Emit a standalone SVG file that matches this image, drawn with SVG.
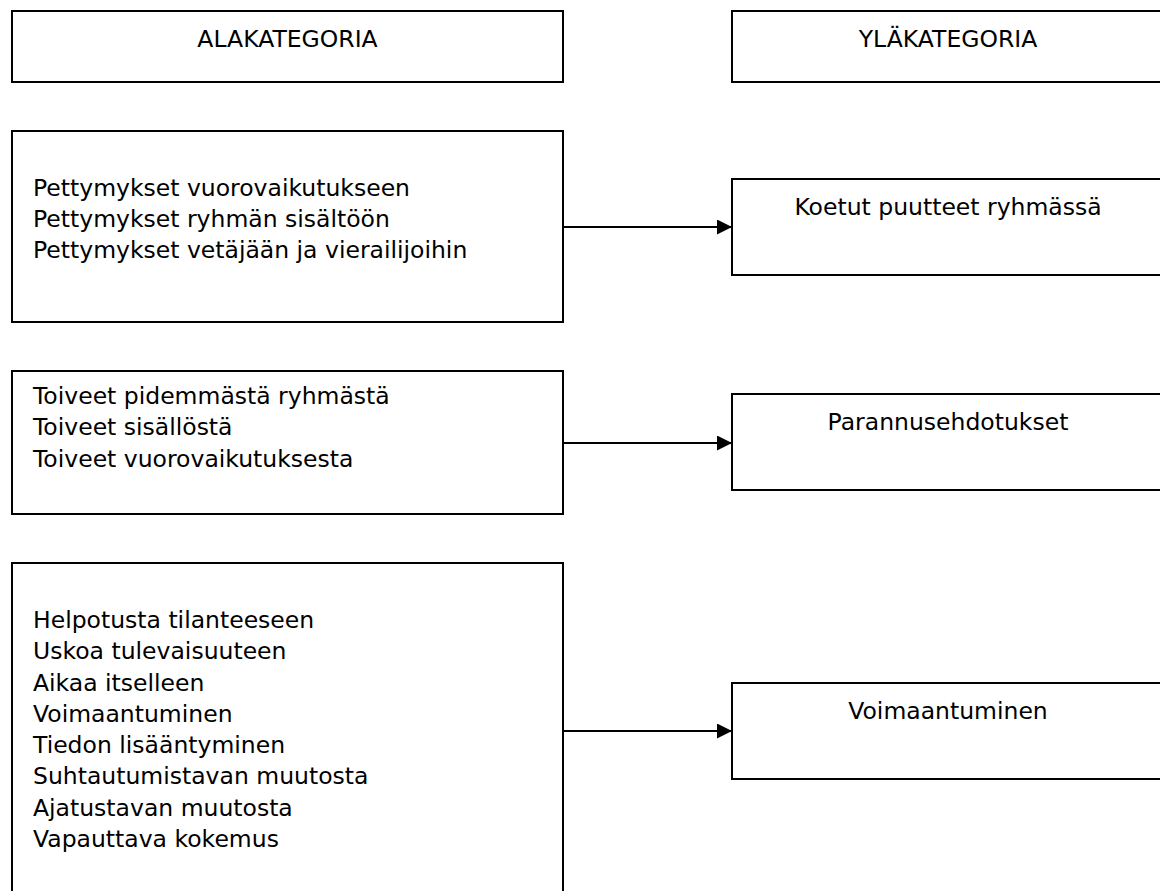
<svg xmlns="http://www.w3.org/2000/svg" width="1160" height="891" viewBox="0 0 1160 891">
  <defs>
    <marker id="arrow" markerWidth="16" markerHeight="16" refX="15" refY="7.5" orient="auto" markerUnits="userSpaceOnUse">
      <path d="M0,0 L15,7.5 L0,15 Z" fill="#000"/>
    </marker>
    <style>
      .box { fill: #fff; stroke: #000; stroke-width: 2; }
      .t { font-family: "DejaVu Sans", "Liberation Sans", sans-serif; font-size: 23.5px; fill: #000; }
      .c { text-anchor: middle; }
      .edge { stroke: #000; stroke-width: 2; fill: none; marker-end: url(#arrow); }
    </style>
  </defs>
  <rect width="1160" height="891" fill="#fff"/>

  <g id="alakategoria">
    <rect class="box" x="12" y="11" width="551" height="71"/>
    <text class="t c" x="287.5" y="47">ALAKATEGORIA</text>
  </g>
  <g id="ylakategoria">
    <rect class="box" x="732" y="11" width="440" height="71"/>
    <text class="t c" x="948" y="47">YLÄKATEGORIA</text>
  </g>

  <g id="pettymykset">
    <rect class="box" x="12" y="131" width="551" height="191"/>
    <text class="t" x="33" y="196">Pettymykset vuorovaikutukseen</text>
    <text class="t" x="33" y="227">Pettymykset ryhmän sisältöön</text>
    <text class="t" x="33" y="258">Pettymykset vetäjään ja vierailijoihin</text>
  </g>
  <g id="koetut">
    <rect class="box" x="732" y="179" width="440" height="96"/>
    <text class="t c" x="948" y="215">Koetut puutteet ryhmässä</text>
  </g>

  <g id="toiveet">
    <rect class="box" x="12" y="371" width="551" height="143"/>
    <text class="t" x="33" y="404">Toiveet pidemmästä ryhmästä</text>
    <text class="t" x="33" y="435">Toiveet sisällöstä</text>
    <text class="t" x="33" y="467">Toiveet vuorovaikutuksesta</text>
  </g>
  <g id="parannus">
    <rect class="box" x="732" y="394" width="440" height="96"/>
    <text class="t c" x="948" y="430">Parannusehdotukset</text>
  </g>

  <g id="helpotusta">
    <rect class="box" x="12" y="563" width="551" height="340"/>
    <text class="t" x="33" y="628">Helpotusta tilanteeseen</text>
    <text class="t" x="33" y="659">Uskoa tulevaisuuteen</text>
    <text class="t" x="33" y="691">Aikaa itselleen</text>
    <text class="t" x="33" y="722">Voimaantuminen</text>
    <text class="t" x="33" y="753">Tiedon lisääntyminen</text>
    <text class="t" x="33" y="784">Suhtautumistavan muutosta</text>
    <text class="t" x="33" y="816">Ajatustavan muutosta</text>
    <text class="t" x="33" y="847">Vapauttava kokemus</text>
  </g>
  <g id="voimaantuminen">
    <rect class="box" x="732" y="683" width="440" height="96"/>
    <text class="t c" x="948" y="719">Voimaantuminen</text>
  </g>

  <g id="connectors">
    <line class="edge" x1="563" y1="227" x2="732" y2="227"/>
    <line class="edge" x1="563" y1="443" x2="732" y2="443"/>
    <line class="edge" x1="563" y1="731" x2="732" y2="731"/>
  </g>
</svg>
